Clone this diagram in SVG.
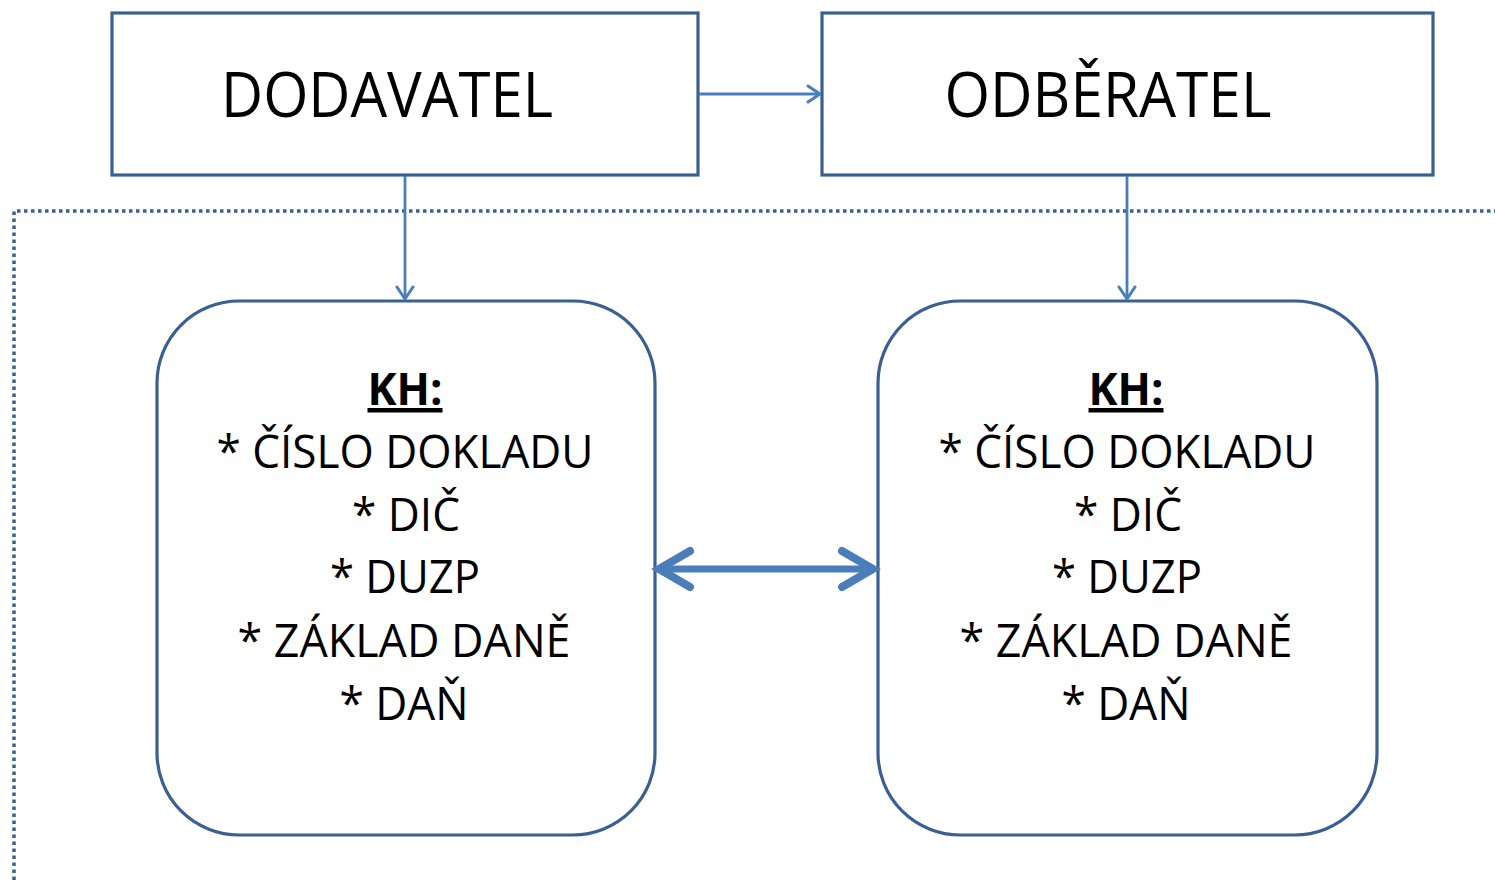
<svg xmlns="http://www.w3.org/2000/svg" width="1495" height="880" viewBox="0 0 1495 880">
<defs>
<style>
.box{fill:#fff;stroke:#3a5f93;stroke-width:3.2}
.t{font-family:"Open Sans","DejaVu Sans",sans-serif;fill:#000;text-anchor:middle}
.title{font-size:62px}
.item{font-size:45px}
.kh{font-size:45px;font-weight:bold;text-decoration:underline}
.con{fill:none;stroke:#4a7ebb;stroke-width:2.8}
.dot{fill:none;stroke:#3a5f93;stroke-width:3.5;stroke-dasharray:3.5 3.5}
</style>
<marker id="ah" viewBox="0 0 20 20" refX="18" refY="10" markerWidth="20" markerHeight="20" markerUnits="userSpaceOnUse" orient="auto">
<path d="M6,2 L18,10 L6,18" fill="none" stroke="#4a7ebb" stroke-width="3" stroke-linecap="round" stroke-linejoin="round"/>
</marker>
</defs>
<g id="frame">
<path class="dot" d="M14,880 L14,211 L1495,211"/>
</g>
<g id="dodavatel">
<rect class="box" x="112" y="13" width="586" height="162"/>
<text class="t title" x="387" y="117" textLength="332" lengthAdjust="spacingAndGlyphs">DODAVATEL</text>
</g>
<g id="odberatel">
<rect class="box" x="822" y="13" width="611" height="162"/>
<text class="t title" x="1108" y="117" textLength="327" lengthAdjust="spacingAndGlyphs">ODBĚRATEL</text>
</g>
<g id="kh1">
<rect class="box" x="157" y="301" width="498" height="534" rx="82" ry="82"/>
<text class="t kh" x="405" y="405" textLength="75" lengthAdjust="spacingAndGlyphs">KH:</text>
<text class="t item" x="405" y="468" textLength="377" lengthAdjust="spacingAndGlyphs">* ČÍSLO DOKLADU</text>
<text class="t item" x="406" y="531" textLength="108" lengthAdjust="spacingAndGlyphs">* DIČ</text>
<text class="t item" x="405" y="593" textLength="150" lengthAdjust="spacingAndGlyphs">* DUZP</text>
<text class="t item" x="404" y="657" textLength="333" lengthAdjust="spacingAndGlyphs">* ZÁKLAD DANĚ</text>
<text class="t item" x="404" y="720" textLength="129" lengthAdjust="spacingAndGlyphs">* DAŇ</text>
</g>
<g id="kh2">
<rect class="box" x="878" y="301" width="499" height="534" rx="82" ry="82"/>
<text class="t kh" x="1126" y="405" textLength="75" lengthAdjust="spacingAndGlyphs">KH:</text>
<text class="t item" x="1127" y="468" textLength="377" lengthAdjust="spacingAndGlyphs">* ČÍSLO DOKLADU</text>
<text class="t item" x="1128" y="531" textLength="108" lengthAdjust="spacingAndGlyphs">* DIČ</text>
<text class="t item" x="1127" y="593" textLength="150" lengthAdjust="spacingAndGlyphs">* DUZP</text>
<text class="t item" x="1126" y="657" textLength="333" lengthAdjust="spacingAndGlyphs">* ZÁKLAD DANĚ</text>
<text class="t item" x="1126" y="720" textLength="129" lengthAdjust="spacingAndGlyphs">* DAŇ</text>
</g>
<g id="connectors">
<line class="con" x1="699" y1="94" x2="820" y2="94" marker-end="url(#ah)"/>
<line class="con" x1="405" y1="176" x2="405" y2="299" marker-end="url(#ah)"/>
<line class="con" x1="1127" y1="176" x2="1127" y2="299" marker-end="url(#ah)"/>
<line x1="662" y1="569" x2="870" y2="569" stroke="#4a7ebb" stroke-width="7"/>
<path d="M690,551 L659,569 L690,587 M842,551 L873,569 L842,587" fill="none" stroke="#4a7ebb" stroke-width="8" stroke-linecap="round" stroke-linejoin="miter"/>
</g>
</svg>
